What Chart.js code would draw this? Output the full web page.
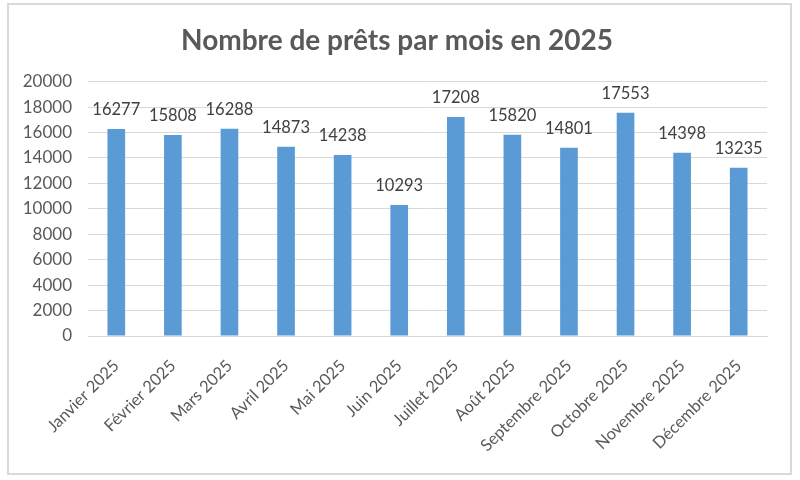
<!DOCTYPE html>
<html><head><meta charset="utf-8">
<script src="https://cdn.jsdelivr.net/npm/chart.js@4/dist/chart.umd.min.js"></script>
<style>
html,body{margin:0;padding:0;background:#fff;}
#wrap{position:absolute;left:0;top:0;width:800px;height:480px;}
#frame{position:absolute;left:7px;top:3px;width:781px;height:468px;border:2px solid #d9d9d9;}
canvas{position:absolute;left:0;top:0;}
</style></head>
<body><div id="wrap"><div id="frame"></div><canvas id="c" width="800" height="480"></canvas></div>
<script>
const titleText = 'Nombre de prêts par mois en 2025';
const categories = ['Janvier 2025','Février 2025','Mars 2025','Avril 2025','Mai 2025','Juin 2025','Juillet 2025','Août 2025','Septembre 2025','Octobre 2025','Novembre 2025','Décembre 2025'];
const loans = [16277,15808,16288,14873,14238,10293,17208,15820,14801,17553,14398,13235];
const yMin = 0, yMax = 20000, yStep = 2000;

const FONT = 'Lato, "Open Sans", sans-serif';
const labelPlugin = {
  id:'barLabels',
  afterLayout(chart){
    if (chart.titleBlock){ chart.titleBlock.left = 0; chart.titleBlock.right = 794; }
  },
  afterDatasetsDraw(chart){
    const ctx = chart.ctx;
    const meta = chart.getDatasetMeta(0);
    ctx.save();
    ctx.font = '16.5px ' + FONT;
    ctx.fillStyle = '#404040';
    ctx.textAlign = 'center';
    ctx.textBaseline = 'bottom';
    meta.data.forEach((bar,i)=>{
      ctx.fillText(String(loans[i]), bar.x, bar.y - 11);
    });
    ctx.restore();
  }
};

new Chart(document.getElementById('c'),{
  type:'bar',
  data:{labels:categories,datasets:[{data:loans,backgroundColor:'#5B9BD5',barPercentage:0.6,categoryPercentage:0.52}]},
  options:{
    responsive:false,animation:false,
    layout:{padding:{left:8,right:33,top:24,bottom:0}},
    plugins:{
      legend:{display:false},tooltip:{enabled:false},
      title:{display:true,text:titleText,color:'#595959',font:{family:FONT,size:28,weight:'bold'},padding:{top:0,bottom:24}}
    },
    scales:{
      x:{grid:{display:false},border:{display:true,color:'#d9d9d9'},
         ticks:{color:'#595959',font:{family:FONT,size:16.5},minRotation:45,maxRotation:45,padding:12},
         afterFit(s){s.height=144;}},
      y:{min:yMin,max:yMax,ticks:{stepSize:yStep,color:'#595959',font:{family:FONT,size:17},padding:16,
           callback:(v)=>String(v)},
         grid:{color:'#d9d9d9',drawTicks:false},border:{display:false},
         afterFit(s){s.width=80;}}
    }
  },
  plugins:[labelPlugin]
});
</script></body></html>
